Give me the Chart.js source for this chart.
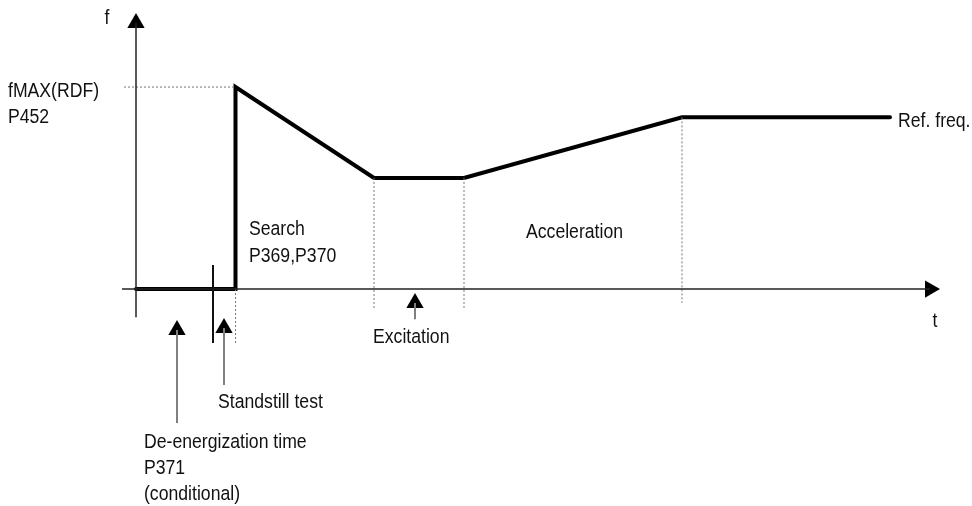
<!DOCTYPE html>
<html lang="en">
<head>
    <meta charset="UTF-8">
    <title>Flying restart sequence</title>
    <script src="https://cdn.jsdelivr.net/npm/chart.js"></script>
    <style>
        body {
            margin: 0;
            background: #fff;
        }
        #wrap {
            width: 972px;
            height: 506px;
        }
    </style>
</head>
<body>
    <div id="wrap"><canvas id="seqChart" width="972" height="506"></canvas></div>

    <script>
        // time in arbitrary units, frequency in % of fMAX
        const curveTimes = [0, 9.95, 9.95, 23.8, 32.8, 54.6, 75.4];
        const curveFreqs = [0, 0, 100, 55, 55, 85, 85];

        // dotted guide lines (phase boundaries)
        const guideTimes = [9.95, 23.8, 32.8, 54.6];
        const guideTops = [0, 55, 55, 85];
        const guideBottoms = [-27.7, -10.4, -9.9, -6.9];
        const fmaxGuide = { from: -1.2, to: 9.95, level: 100 };

        // standstill test marker
        const standstillTime = 7.7;
        const standstillSpan = [11.9, -26.7];

        // pointer arrows: time, head level, tail level
        const pointerTimes = [4.1, 8.8, 27.9];
        const pointerHeads = [-20.3, -19.3, -6.9];
        const pointerTails = [-66.3, -47.5, -14.9];

        // axes
        const tAxis = { from: -1.4, to: 79.4 };
        const fAxis = { from: -13.9, to: 131.7 };

        const textLabels = [
            { text: 'f', t: -2.9, f: 131.2, align: 'center' },
            { text: 'fMAX(RDF)', t: -12.8, f: 95.0 },
            { text: 'P452', t: -12.8, f: 82.2 },
            { text: 'Search', t: 11.3, f: 26.7 },
            { text: 'P369,P370', t: 11.3, f: 13.4 },
            { text: 'Acceleration', t: 39.0, f: 25.2 },
            { text: 'Excitation', t: 23.7, f: -26.7 },
            { text: 'Ref. freq.', t: 76.2, f: 80.2 },
            { text: 't', t: 79.9, f: -18.8, align: 'center' },
            { text: 'Standstill test', t: 8.2, f: -58.9 },
            { text: 'De-energization time', t: 0.8, f: -78.7 },
            { text: 'P371', t: 0.8, f: -91.6 },
            { text: '(conditional)', t: 0.8, f: -104.5 }
        ];

        const seg = (x1, y1, x2, y2) => [{ x: x1, y: y1 }, { x: x2, y: y2 }];

        const datasets = [];

        // axes
        datasets.push({
            data: seg(tAxis.from, 0, tAxis.to, 0),
            borderColor: '#222', borderWidth: 1.5
        });
        datasets.push({
            data: seg(0, fAxis.from, 0, fAxis.to),
            borderColor: '#222', borderWidth: 1.5
        });

        // dotted guides
        datasets.push({
            data: seg(fmaxGuide.from, fmaxGuide.level, fmaxGuide.to, fmaxGuide.level),
            borderColor: '#777', borderWidth: 1, borderDash: [2, 2]
        });
        guideTimes.forEach((t, i) => {
            datasets.push({
                data: seg(t, guideTops[i], t, guideBottoms[i]),
                borderColor: '#777', borderWidth: 1, borderDash: [2, 2]
            });
        });

        // standstill marker
        datasets.push({
            data: seg(standstillTime, standstillSpan[0], standstillTime, standstillSpan[1]),
            borderColor: '#111', borderWidth: 2
        });

        // pointer shafts
        pointerTimes.forEach((t, i) => {
            datasets.push({
                data: seg(t, pointerHeads[i], t, pointerTails[i]),
                borderColor: '#808080', borderWidth: 2
            });
        });

        // frequency curve
        datasets.push({
            data: curveTimes.map((t, i) => ({ x: t, y: curveFreqs[i] })),
            borderColor: '#000', borderWidth: 4,
            borderCapStyle: 'round', borderJoinStyle: 'miter'
        });

        // arrow heads
        const heads = pointerTimes.map((t, i) => ({ x: t, y: pointerHeads[i] }));
        datasets.push({
            data: [{ x: 0, y: fAxis.to }, ...heads],
            showLine: false, pointStyle: 'triangle', pointRadius: 10,
            pointBackgroundColor: '#000', pointBorderWidth: 0
        });
        datasets.push({
            data: [{ x: tAxis.to, y: 0 }],
            showLine: false, pointStyle: 'triangle', pointRadius: 10, rotation: 90,
            pointBackgroundColor: '#000', pointBorderWidth: 0
        });

        datasets.forEach(d => {
            if (d.showLine === undefined) {
                d.showLine = true;
                d.pointRadius = 0;
            }
            d.fill = false;
            d.tension = 0;
            d.clip = false;
        });

        // narrow, tall lettering like the original drawing
        const labelPlugin = {
            id: 'labels',
            afterDatasetsDraw(chart) {
                const { ctx, scales } = chart;
                ctx.save();
                ctx.font = '20.5px "Liberation Sans", Arial, sans-serif';
                ctx.fillStyle = '#111';
                ctx.textBaseline = 'alphabetic';
                textLabels.forEach(l => {
                    ctx.save();
                    ctx.translate(scales.x.getPixelForValue(l.t), scales.y.getPixelForValue(l.f));
                    ctx.scale(0.86, 1);
                    ctx.textAlign = l.align || 'left';
                    ctx.fillText(l.text, 0, 0);
                    ctx.restore();
                });
                ctx.restore();
            }
        };

        new Chart(document.getElementById('seqChart'), {
            type: 'scatter',
            data: { datasets },
            options: {
                responsive: false,
                animation: false,
                layout: { padding: 0, autoPadding: false },
                plugins: {
                    legend: { display: false },
                    tooltip: { enabled: false }
                },
                scales: {
                    x: { type: 'linear', min: -13.6, max: 83.6, display: false },
                    y: { type: 'linear', min: -107.4, max: 143.1, display: false }
                }
            },
            plugins: [labelPlugin]
        });
    </script>
</body>
</html>
